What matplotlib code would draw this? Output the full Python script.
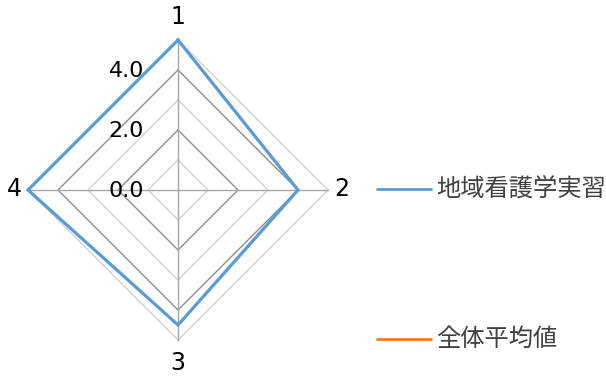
import numpy as np
import matplotlib
matplotlib.use("Agg")
import matplotlib.pyplot as plt
from matplotlib.lines import Line2D

# data
categories = ["1", "2", "3", "4"]
series_names = ["地域看護学実習", "全体平均値"]
chiiki = [5.0, 4.0, 4.5, 5.0]
zentai = [np.nan, np.nan, np.nan, np.nan]   # not drawn in the reference
levels = [1, 2, 3, 4, 5]
tick_levels = [0, 2, 4]
tick_labels = ["0.0", "2.0", "4.0"]

colors = ["#5b9bd5", "#ed7d31"]

W, H = 606, 379
fig = plt.figure(figsize=(W / 100, H / 100), dpi=100)

# centre at pixel (178, 190), 30 px per unit
cx, cy, scale = 178, 190, 30.0
xl, yl = 5.8, 6.3
ax = fig.add_axes([(cx - xl * scale) / W, (H - cy - yl * scale) / H,
                   2 * xl * scale / W, 2 * yl * scale / H])
ax.set_xlim(-xl, xl)
ax.set_ylim(-yl, yl)
ax.axis("off")

n = len(categories)
ang = np.pi / 2 - np.arange(n) * 2 * np.pi / n


def xy(vals):
    v = np.array(list(vals) + [vals[0]], dtype=float)
    a = np.append(ang, ang[0])
    return v * np.cos(a), v * np.sin(a)


# grid rings
for lv in levels:
    gx, gy = xy([lv] * n)
    c = "#8c8c8c" if lv % 2 == 0 else "#d0d0d0"
    ax.plot(gx, gy, color=c, lw=1.0, zorder=1)

# spokes
for a in ang:
    ax.plot([0, levels[-1] * np.cos(a)], [0, levels[-1] * np.sin(a)],
            color="#a6a6a6", lw=1.0, zorder=1)

# tick labels
for lv, t in zip(tick_levels, tick_labels):
    ax.text(-1.13, lv - 0.03, t, ha="right", va="center", fontsize=16, color="black", zorder=3)

# category labels
for c, a in zip(categories, ang):
    if np.isclose(np.cos(a), 0):
        r = 5.75
        dy = 0
    else:
        r = 5.45
        dy = 0.03
    ax.text(r * np.cos(a), r * np.sin(a) + dy, c,
            ha="center", va="center", fontsize=17, color="black")

# series
for vals, col in zip([chiiki, zentai], colors):
    sx, sy = xy(vals)
    ax.plot(sx, sy, color=col, lw=2.3, zorder=4, solid_joinstyle="miter")

# legend
leg_y = [189, 339]
for name, col, y in zip(series_names, colors, leg_y):
    fig.add_artist(Line2D([377 / W, 431 / W], [(H - y) / H, (H - y) / H],
                          color=col, lw=2.0, solid_capstyle="round"))
    fig.text(436 / W, (H - y) / H, name, ha="left", va="center", fontsize=17.5,
             color="#404040", family=["Noto Sans CJK JP", "DejaVu Sans"])

fig.savefig("out.png", dpi=100)
